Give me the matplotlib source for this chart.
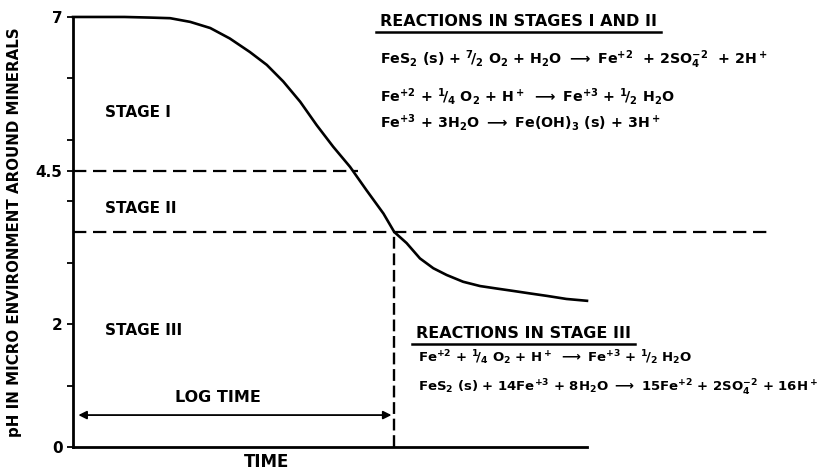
import numpy as np
import matplotlib.pyplot as plt
from matplotlib.lines import Line2D

plt.rcParams['font.family'] = ['DejaVu Sans']
plt.rcParams['font.weight'] = 'bold'
plt.rcParams['mathtext.fontset'] = 'dejavusans'
plt.rcParams['mathtext.default'] = 'bf'

# pH curve (time in arbitrary units)
curve_time = [0.0, 0.5, 1.0, 1.5, 1.89, 2.28, 2.67, 3.05, 3.44, 3.77, 4.09, 4.42, 4.74, 5.06,
              5.39, 5.71, 6.04, 6.25, 6.49, 6.75, 7.01, 7.27, 7.59, 7.92, 8.24, 8.57, 8.89,
              9.22, 9.6, 10.0]
curve_ph = [7.0, 7.0, 7.0, 6.99, 6.98, 6.92, 6.82, 6.65, 6.43, 6.22, 5.95, 5.62, 5.24, 4.89,
            4.56, 4.18, 3.8, 3.5, 3.32, 3.07, 2.91, 2.8, 2.69, 2.62, 2.58, 2.54, 2.5,
            2.46, 2.41, 2.38]

stage_limits = [4.5, 3.5]
stage_ends = [5.55, 13.6]
stage_labels = ['STAGE I', 'STAGE II', 'STAGE III']
log_time_end = 6.25

ytick_major = [0, 2, 4.5, 7]
ytick_minor = [1, 3, 4, 5, 6]

title_1 = 'REACTIONS IN STAGES I AND II'
eqs_1 = [r'FeS$_2$ (s) + $^7\!/_2$ O$_2$ + H$_2$O $\longrightarrow$ Fe$^{+2}$  + 2SO$_4^{-2}$  + 2H$^+$',
         r'Fe$^{+2}$ + $^1\!/_4$ O$_2$ + H$^+$ $\longrightarrow$ Fe$^{+3}$ + $^1\!/_2$ H$_2$O',
         r'Fe$^{+3}$ + 3H$_2$O $\longrightarrow$ Fe(OH)$_3$ (s) + 3H$^+$']
title_2 = 'REACTIONS IN STAGE III'
eqs_2 = [r'Fe$^{+2}$ + $^1\!/_4$ O$_2$ + H$^+$ $\longrightarrow$ Fe$^{+3}$ + $^1\!/_2$ H$_2$O',
         r'FeS$_2$ (s) + 14Fe$^{+3}$ + 8H$_2$O $\longrightarrow$ 15Fe$^{+2}$ + 2SO$_4^{-2}$ + 16H$^+$']

fig = plt.figure(figsize=(8.28, 4.7), dpi=100)
ax = fig.add_axes([0.0882, 0.0489, 0.869, 0.915])
ax.set_xlim(0, 14)
ax.set_ylim(0, 7)

ax.plot(curve_time, curve_ph, color='black', lw=1.9, clip_on=False, solid_joinstyle='round')

# stage boundaries
for lim, end in zip(stage_limits, stage_ends):
    ax.plot([0, end], [lim, lim], color='black', lw=1.6, ls=(0, (6, 3)))
ax.plot([log_time_end, log_time_end], [0, stage_limits[1]], color='black', lw=1.7, ls=(0, (5, 2)))

# log time arrow
ax.annotate('', xy=(log_time_end, 0.52), xytext=(0.05, 0.52),
            arrowprops=dict(arrowstyle='<|-|>', color='black', lw=1.3, mutation_scale=12))
ax.text(2.82, 0.8, 'LOG TIME', ha='center', va='center', fontsize=11.5)

stage_y = [5.44, 3.89, 1.9]
for lab, yy in zip(stage_labels, stage_y):
    ax.text(0.62, yy, lab, ha='left', va='center', fontsize=11)

# axes styling
for s in ['top', 'right']:
    ax.spines[s].set_visible(False)
ax.spines['left'].set_linewidth(2)
ax.spines['bottom'].set_linewidth(2)
ax.spines['bottom'].set_bounds(0, 10)
ax.set_xticks([])
ax.set_yticks(ytick_major)
ax.set_yticklabels(['0', '2', '4.5', '7'], fontsize=11, fontweight='bold')
ax.set_yticks(ytick_minor, minor=True)
ax.tick_params(axis='y', which='both', direction='out', length=4, width=1.3)
ax.set_ylabel('pH IN MICRO ENVIRONMENT AROUND MINERALS', fontsize=10.8, fontweight='bold', labelpad=10)
ax.text(3.77, -0.24, 'TIME', ha='center', va='center', fontsize=12, clip_on=False)

# reaction text blocks
t1 = ax.text(5.97, 6.92, title_1, ha='left', va='center', fontsize=11.5)
for eq, yy in zip(eqs_1, [6.30, 5.70, 5.29]):
    ax.text(5.97, yy, eq, ha='left', va='center', fontsize=10.3)
t2 = ax.text(6.67, 1.84, title_2, ha='left', va='center', fontsize=11.5)
for eq, yy in zip(eqs_2, [1.45, 0.96]):
    ax.text(6.71, yy, eq, ha='left', va='center', fontsize=9.5)

# underline the two headings
fig.canvas.draw()
r = fig.canvas.get_renderer()
inv = fig.transFigure.inverted()
for t in [t1, t2]:
    bb = t.get_window_extent(r)
    (x0, y0), (x1, _) = inv.transform([(bb.x0 - 4, bb.y0 - 3), (bb.x1 + 4, bb.y0)])
    fig.add_artist(Line2D([x0, x1], [y0, y0], color='black', lw=1.8))

fig.savefig('out.png', dpi=100)
